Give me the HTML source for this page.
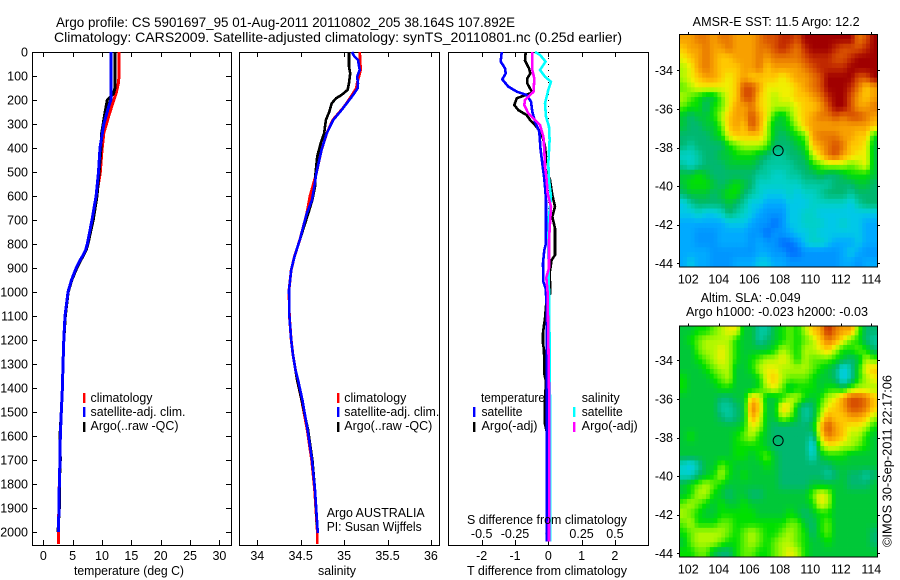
<!DOCTYPE html>
<html lang="en">
<head>
<meta charset="utf-8">
<title>Argo profile chart</title>
<style>
html,body{margin:0;padding:0;background:#fff;width:900px;height:580px;overflow:hidden}
svg{display:block}
text{font-family:"Liberation Sans",sans-serif;fill:#000}
</style>
</head>
<body>
<svg id="chart" width="900" height="580" viewBox="0 0 900 580" xmlns="http://www.w3.org/2000/svg">
  <rect width="900" height="580" fill="#fff"/>
  <text x="56" y="27" font-size="14" textLength="459" lengthAdjust="spacingAndGlyphs">Argo profile: CS 5901697_95 01-Aug-2011 20110802_205 38.164S 107.892E</text>
  <text x="54" y="42" font-size="14" textLength="568" lengthAdjust="spacingAndGlyphs">Climatology: CARS2009. Satellite-adjusted climatology: synTS_20110801.nc (0.25d earlier)</text>

  <g id="panels"></g>
  <g id="maps"></g>

  <text x="74" y="575" font-size="12.5" textLength="110" lengthAdjust="spacingAndGlyphs">temperature (deg C)</text>
  <text x="318" y="575" font-size="12.5" textLength="38" lengthAdjust="spacingAndGlyphs">salinity</text>
  <text x="467" y="575" font-size="12.5" textLength="160" lengthAdjust="spacingAndGlyphs">T difference from climatology</text>
  <text x="467" y="524" font-size="12.5" textLength="160" lengthAdjust="spacingAndGlyphs">S difference from climatology</text>

  <g>
    <rect x="83" y="393" width="2.4" height="10" fill="#f00"/>
    <rect x="83" y="407" width="2.4" height="10" fill="#00f"/>
    <rect x="83" y="422" width="2.4" height="10" fill="#000"/>
    <text x="90.5" y="402" font-size="12.5" textLength="62" lengthAdjust="spacingAndGlyphs">climatology</text>
    <text x="90.5" y="416" font-size="12.5" textLength="95" lengthAdjust="spacingAndGlyphs">satellite-adj. clim.</text>
    <text x="90.5" y="430" font-size="12.5" textLength="88" lengthAdjust="spacingAndGlyphs">Argo(..raw -QC)</text>
  </g>
  <g>
    <rect x="337" y="393" width="2.4" height="10" fill="#f00"/>
    <rect x="337" y="407" width="2.4" height="10" fill="#00f"/>
    <rect x="337" y="422" width="2.4" height="10" fill="#000"/>
    <text x="344.3" y="402" font-size="12.5" textLength="62" lengthAdjust="spacingAndGlyphs">climatology</text>
    <text x="344.3" y="416" font-size="12.5" textLength="95" lengthAdjust="spacingAndGlyphs">satellite-adj. clim.</text>
    <text x="344.3" y="430" font-size="12.5" textLength="88" lengthAdjust="spacingAndGlyphs">Argo(..raw -QC)</text>
    <text x="326.7" y="517" font-size="12.5" textLength="98" lengthAdjust="spacingAndGlyphs">Argo AUSTRALIA</text>
    <text x="326.7" y="531" font-size="12.5" textLength="95" lengthAdjust="spacingAndGlyphs">PI: Susan Wijffels</text>
  </g>
  <g>
    <text x="481" y="402" font-size="12.5" textLength="64" lengthAdjust="spacingAndGlyphs">temperature</text>
    <text x="581.7" y="402" font-size="12.5" textLength="38" lengthAdjust="spacingAndGlyphs">salinity</text>
    <rect x="473" y="407" width="2.4" height="10" fill="#00f"/>
    <rect x="473" y="422" width="2.4" height="10" fill="#000"/>
    <rect x="573" y="407" width="2.4" height="10" fill="#0ff"/>
    <rect x="573" y="422" width="2.4" height="10" fill="#f0f"/>
    <text x="481.5" y="416" font-size="12.5" textLength="41" lengthAdjust="spacingAndGlyphs">satellite</text>
    <text x="481.5" y="430" font-size="12.5" textLength="56" lengthAdjust="spacingAndGlyphs">Argo(-adj)</text>
    <text x="581.7" y="416" font-size="12.5" textLength="41" lengthAdjust="spacingAndGlyphs">satellite</text>
    <text x="581.7" y="430" font-size="12.5" textLength="56" lengthAdjust="spacingAndGlyphs">Argo(-adj)</text>
  </g>

  <text x="692.7" y="26" font-size="12.5" textLength="167" lengthAdjust="spacingAndGlyphs">AMSR-E SST: 11.5 Argo: 12.2</text>
  <text x="700.7" y="302" font-size="12.5" textLength="100" lengthAdjust="spacingAndGlyphs">Altim. SLA: -0.049</text>
  <text x="686" y="316" font-size="12.5" textLength="182" lengthAdjust="spacingAndGlyphs">Argo h1000: -0.023 h2000: -0.03</text>
  <text transform="translate(891.5 547) rotate(-90)" font-size="12.5" textLength="172" lengthAdjust="spacingAndGlyphs">©IMOS 30-Sep-2011 22:17:06</text>
</svg>

<script>
// ---------- chart data ----------
const depthTicks = [0,100,200,300,400,500,600,700,800,900,1000,1100,1200,1300,1400,1500,1600,1700,1800,1900,2000];
const temperatureTicks = [0,5,10,15,20,25,30];
const salinityTicks = [34,34.5,35,35.5,36];
const tDiffTicks = [-2,-1,0,1,2];
const sDiffTickLabels = ["-0.5","-0.25","0","0.25","0.5"];
const sDiffTicks = [-0.5,-0.25,0,0.25,0.5];
const lonTicks = [102,104,106,108,110,112,114];
const latTicks = [-34,-36,-38,-40,-42,-44];

const climTempDepth = [0,100,130,172,215,270,338,408,505,600,700,800,825,850,875,900,950,1000,1100,1200,1300,1400,1500,1600,1700,1800,1900,2000,2050];
const climTemp = [12.9,12.9,12.8,12.4,11.8,11.1,10.3,10.0,9.7,9.05,8.35,7.5,7.2,6.7,6.1,5.6,4.8,4.2,3.7,3.5,3.35,3.25,3.07,2.9,2.85,2.73,2.66,2.56,2.55];
const satTempDepth = [0,200,230,300,400,500,600,700,800,825,850,875,900,950,1000,1100,1200,1300,1400,1500,1600,1700,1800,1900,2000];
const satTemp = [11.5,11.5,11.1,10.3,9.66,9.4,9.0,8.3,7.5,7.2,6.7,6.1,5.6,4.8,4.2,3.7,3.5,3.35,3.25,3.07,2.9,2.85,2.73,2.68,2.56];
const argoTempDepth = [0,150,172,200,255,338,408,500,600,700,800,825,850,875,900,950,1000,1100,1200,1300,1400,1500,1600,1700,1800,1900,2000];
const argoTemp = [12.2,12.2,12.0,10.9,10.5,9.95,9.8,9.5,9.15,8.5,7.6,7.3,6.8,6.2,5.7,4.85,4.25,3.75,3.5,3.35,3.25,3.07,2.85,2.9,2.73,2.72,2.5];

const climSalDepth = [0,75,130,151,186,228,283,339,408,506,600,672,728,783,850,908,992,1100,1200,1260,1325,1367,1450,1575,1700,1825,1992,2050];
const climSal = [35.18,35.19,35.15,35.14,35.08,35.0,34.87,34.8,34.74,34.68,34.607,34.57,34.53,34.49,34.43,34.39,34.365,34.37,34.39,34.41,34.44,34.46,34.51,34.575,34.625,34.66,34.69,34.69];
const satSalDepth = [0,19,33,75,103,130,151,186,242,283,339,408,506,561,617,672,728,783,850,908,992,1100,1200,1260,1325,1367,1450,1575,1700,1825,2005];
const satSal = [35.09,35.12,35.16,35.18,35.15,35.16,35.157,35.09,34.97,34.876,34.8,34.74,34.68,34.657,34.63,34.57,34.53,34.49,34.43,34.39,34.365,34.37,34.39,34.41,34.44,34.47,34.52,34.58,34.63,34.665,34.697];
const argoSalDepth = [0,61,89,130,158,179,193,214,249,283,339,380,436,506,561,617,672,783,850,908,992,1100,1200,1260,1325,1367,1450,1575,1700,1825,1980];
const argoSal = [35.056,35.056,35.07,35.056,35.04,34.97,34.907,34.857,34.83,34.79,34.77,34.73,34.69,34.67,34.665,34.634,34.587,34.49,34.43,34.39,34.365,34.37,34.39,34.41,34.44,34.46,34.51,34.585,34.635,34.665,34.69];

const satTDiffDepth = [0,40,68,89,114,144,165,179,207,249,290,332,408,464,519,561,617,797,825,881,957,985,1050,2040];
const satTDiff = [-1.40,-1.43,-1.30,-1.28,-1.38,-1.20,-0.95,-0.65,-0.52,-0.48,-0.40,-0.27,-0.23,-0.18,-0.13,-0.10,-0.07,-0.07,-0.12,-0.16,-0.15,-0.08,-0.05,-0.04];
const argoTDiffDepth = [0,36,68,89,110,131,169,193,221,242,263,283,304,339,394,436,485,533,596,644,686,735,846,867,923,985,1006,1030,1110,1138,1172,1214,1242,1339,1374,1450,1550,1580,2040];
const argoTDiff = [-0.68,-0.70,-0.58,-0.54,-0.63,-0.63,-0.48,-0.95,-1.02,-0.90,-0.65,-0.55,-0.40,-0.20,-0.10,-0.07,-0.10,0.05,0.12,0.20,0.12,0.20,0.20,0.10,0.04,0.06,0.06,-0.05,-0.10,-0.13,-0.16,-0.16,-0.13,-0.12,-0.07,-0.10,-0.10,-0.05,-0.05];
const satSDiffDepth = [0,12,40,75,103,124,158,214,269,311,367,464,533,603,686,783,1000,1330,2040];
const satSDiff = [-0.10,-0.062,-0.02,-0.062,-0.025,0.02,0,-0.025,-0.017,0.005,0.01,0,0.005,0.02,0.005,0,0.005,0.012,0.015];
const argoSDiffDepth = [0,75,110,165,200,221,256,283,304,353,408,478,533,589,644,714,783,900,940,1000,1300,1500,2040];
const argoSDiff = [-0.12,-0.12,-0.105,-0.11,-0.175,-0.18,-0.15,-0.10,-0.062,-0.037,-0.03,-0.025,-0.012,-0.005,0.02,0.013,0.005,0.005,-0.015,-0.005,0.003,0.008,0.005];

// colour level (0 = coldest/lowest … 17 = warmest/highest), 0.5 deg cells north to south, west to east
const sstLevels = [
[13,13,14,14,13,14,14,13,13,13,14,15,15,16,16,15,17,17,17,17,17,17,17,14,15,17],
[12,13,13,14,13,13,14,13,13,13,14,14,15,16,15,14,16,17,17,17,16,15,15,15,16,17],
[11,12,13,14,13,12,12,13,13,13,14,13,14,14,14,14,15,16,16,16,15,15,16,17,17,17],
[10,11,13,14,13,12,12,12,13,13,14,12,13,13,13,13,14,15,16,16,16,16,17,17,17,17],
[10,11,12,13,13,12,11,12,13,12,12,12,12,11,12,13,13,14,15,17,17,17,17,15,15,17],
[9,10,11,11,11,11,11,12,15,15,13,11,11,11,11,12,13,14,15,17,17,17,16,14,12,13],
[10,9,8,7,7,9,11,12,15,15,12,11,10,11,11,12,12,13,14,16,17,17,15,13,12,13],
[9,8,8,6,8,9,11,13,13,14,12,11,10,10,10,11,12,12,13,15,17,17,15,13,13,14],
[7,6,7,7,8,10,12,13,13,15,13,11,8,7,9,11,12,13,14,14,15,14,15,15,14,13],
[7,6,6,7,7,9,12,13,12,15,13,10,7,7,8,10,12,13,13,13,13,13,13,13,13,12],
[6,6,6,6,7,8,11,12,12,12,12,10,7,6,7,8,9,13,14,14,14,13,13,12,12,8],
[6,5,6,6,6,6,8,9,10,10,10,9,6,6,6,7,8,12,13,14,15,14,12,12,11,7],
[4,4,5,6,6,7,7,8,8,8,7,6,5,5,6,6,7,10,12,14,15,13,12,11,11,7],
[5,4,5,6,6,6,7,7,7,7,6,5,5,5,5,6,6,8,9,10,10,10,9,10,11,7],
[7,7,8,7,6,6,6,6,6,6,5,5,4,4,5,5,6,6,7,6,6,7,8,8,8,7],
[7,8,8,8,7,6,7,8,7,6,4,4,4,4,4,4,5,5,5,5,6,6,6,7,7,6],
[6,7,7,7,6,7,8,8,6,5,4,3,3,3,4,3,4,4,5,6,6,6,5,6,6,6],
[3,5,6,6,6,6,7,6,5,3,3,2,2,2,3,3,3,4,4,4,4,4,3,5,6,6],
[3,3,4,3,3,4,6,5,4,3,2,1,1,1,3,3,4,4,3,3,3,3,3,3,3,3],
[2,2,2,2,2,2,3,3,3,2,1,1,0,1,3,3,4,4,4,3,3,4,3,3,2,2],
[2,2,1,1,1,2,2,2,2,1,1,0,1,1,2,3,3,4,3,3,3,3,3,3,2,2],
[2,2,1,1,1,2,2,2,2,1,2,1,1,0,0,1,3,4,4,3,2,2,2,3,2,2],
[2,2,2,2,1,1,1,1,1,1,2,2,1,1,0,0,1,1,1,1,1,2,3,2,1,1],
[2,3,2,2,1,1,1,2,2,2,3,3,2,2,1,1,1,1,1,1,1,2,2,1,2,2]
];
const slaLevels = [
[7,7,8,8,9,10,11,11,7,7,5,5,7,8,9,8,10,12,13,16,14,13,13,9,6,6],
[7,8,9,10,10,10,10,8,7,7,5,6,7,8,9,8,9,10,12,14,13,11,9,8,6,5],
[7,7,9,10,10,11,10,8,7,7,7,7,8,10,9,8,10,10,11,12,10,8,8,9,8,6],
[7,7,8,9,10,11,10,8,7,8,9,10,10,11,10,8,10,9,9,9,8,7,6,7,10,9],
[7,7,7,8,9,10,10,7,7,8,10,11,11,10,10,10,10,9,8,7,6,3,5,8,11,12],
[8,7,7,7,8,9,10,7,7,7,8,11,12,10,9,9,9,8,7,7,6,3,5,8,10,11],
[8,7,7,7,7,8,8,7,7,7,8,10,11,9,7,8,8,8,7,8,8,7,9,10,10,10],
[7,7,7,7,7,6,6,7,7,12,11,7,7,8,10,10,8,7,8,10,11,13,15,15,14,12],
[7,7,7,7,7,5,5,6,7,14,12,7,7,12,11,7,5,6,9,11,12,13,15,15,14,12],
[7,7,7,7,7,6,5,6,7,13,11,7,7,10,9,7,5,6,10,13,12,12,13,13,12,10],
[7,7,7,7,7,7,7,7,8,11,10,7,6,6,6,6,6,7,12,15,13,12,11,11,10,8],
[7,8,7,7,7,7,7,8,9,10,8,7,6,6,6,6,6,5,11,14,13,12,10,10,8,7],
[7,7,7,7,7,7,7,8,8,8,8,7,6,6,6,6,6,3,9,11,11,10,10,9,8,7],
[7,7,7,7,7,7,7,8,8,7,8,9,7,6,6,6,6,4,7,8,8,8,7,7,7,7],
[4,3,5,7,7,9,8,7,7,7,7,8,7,6,6,6,6,6,6,6,7,7,7,7,7,7],
[4,4,6,7,8,10,8,7,8,7,7,7,7,6,6,6,6,6,6,5,6,7,6,6,5,6],
[7,8,9,10,9,8,7,7,7,7,7,7,7,6,6,6,6,7,7,7,7,7,6,6,6,7],
[7,8,10,10,8,7,6,7,7,6,6,7,7,7,7,7,7,9,11,10,7,7,7,7,7,7],
[9,10,9,8,7,8,7,7,8,7,7,7,7,7,7,7,7,8,11,10,7,7,7,7,7,7],
[10,9,8,7,7,8,8,8,8,8,7,7,7,7,8,7,6,7,8,8,7,7,7,7,7,7],
[9,10,8,8,8,9,9,8,8,8,8,8,8,8,9,9,7,6,8,9,7,7,7,7,7,7],
[8,9,10,10,10,10,9,8,9,10,9,8,8,9,10,9,8,6,8,9,7,7,7,7,7,6],
[7,9,10,10,10,9,8,8,9,10,9,8,9,10,10,9,8,7,7,8,7,7,7,7,7,6],
[8,8,9,9,7,6,6,8,9,9,8,8,9,10,11,10,8,7,7,7,7,7,7,7,7,7]
];
const profileLon = 107.892;
const profileLat = -38.164;

// ---------- axis functions ----------
const SVGNS = 'http://www.w3.org/2000/svg';
const yDepth = d => 52 + d * 0.24;
const xTemp = t => 43.3 + t * 5.87;
const xSal = s => 257.3 + (s - 34) * 86.8;
const xTDiff = t => 548.3 + t * 33.3;
const xSDiff = s => 548.3 + s * 133.2;
const xLon = lon => 688.3 + (lon - 102) * 15.25;
const latAxis = y34 => lat => y34 + (-34 - lat) * 19.3;

// colormap stops, one per colour level
const paletteR = [0,0,0,0,0,0,0,0,0,96,176,240,255,248,232,216,192,160];
const paletteG = [112,150,170,200,208,200,184,200,224,240,248,240,200,160,120,80,40,0];
const paletteB = [255,255,255,232,200,160,112,56,0,0,0,0,0,0,0,0,0,0];
function levelColor(v) {
  const t = Math.max(0, Math.min(17, v));
  const a = Math.floor(t), b = Math.min(17, a + 1), f = t - a;
  const mix = arr => Math.round(arr[a] + (arr[b] - arr[a]) * f);
  return 'rgb(' + mix(paletteR) + ',' + mix(paletteG) + ',' + mix(paletteB) + ')';
}
// display smoothing: value at fractional grid position (cell centres at integer positions)
function sampleLevel(levels, r, c) {
  const rows = levels.length, cols = levels[0].length;
  const rr = Math.max(0, Math.min(rows - 1, r)), cc = Math.max(0, Math.min(cols - 1, c));
  const r0 = Math.floor(rr), c0 = Math.floor(cc);
  const r1 = Math.min(rows - 1, r0 + 1), c1 = Math.min(cols - 1, c0 + 1);
  const fr = rr - r0, fc = cc - c0;
  return (levels[r0][c0] * (1 - fr) + levels[r1][c0] * fr) * (1 - fc) +
         (levels[r0][c1] * (1 - fr) + levels[r1][c1] * fr) * fc;
}

function make(tag, parent, attrs, txt) {
  const el = document.createElementNS(SVGNS, tag);
  for (const k in attrs) el.setAttribute(k, attrs[k]);
  if (txt !== undefined) el.textContent = txt;
  parent.appendChild(el);
  return el;
}

const panels = document.getElementById('panels');
const maps = document.getElementById('maps');

function drawFrame(x0, x1, y0, y1, name) {
  const el = make('rect', panels, {x: x0 + .5, y: y0 + .5, width: x1 - x0, height: y1 - y0, fill: 'none', stroke: '#000', 'stroke-width': 1, 'shape-rendering': 'crispEdges'});
  
  
}

function tick(parent, x1, y1, x2, y2, name) {
  const el = make('line', parent, {x1, y1, x2, y2, stroke: '#000', 'stroke-width': 1, 'shape-rendering': 'crispEdges'});
  
  
}

function label(parent, x, y, anchor, txt, name) {
  const el = make('text', parent, {x, y, 'text-anchor': anchor, 'font-size': 12.5}, txt);
  
  
}

function series(depths, values, xf, color, width, name) {
  const pts = depths.map((d, i) => xf(values[i]).toFixed(1) + ',' + yDepth(d).toFixed(1)).join(' ');
  const el = make('polyline', panels, {points: pts, fill: 'none', stroke: color, 'stroke-width': width, 'stroke-linejoin': 'round', 'shape-rendering': 'crispEdges'});
  
  
}

// frames
const P_TOP = 52, P_BOT = 545;
drawFrame(32, 231, P_TOP, P_BOT, 'temperature-plot-frame');
drawFrame(239, 439, P_TOP, P_BOT, 'salinity-plot-frame');
drawFrame(448, 648, P_TOP, P_BOT, 'difference-plot-frame');

// depth ticks
depthTicks.forEach(d => {
  const y = Math.round(yDepth(d)) + .5;
  tick(panels, 32, y, 37, y, 'depth-tick-left');
  tick(panels, 226, y, 231, y, 'depth-tick-right');
  label(panels, 28, yDepth(d) + 4.5, 'end', String(d), 'depth-tick-label');
});
// temperature ticks
temperatureTicks.forEach(v => {
  const x = Math.round(xTemp(v)) + .5;
  tick(panels, x, P_TOP, x, P_TOP + 5, 'temperature-tick-top');
  tick(panels, x, P_BOT - 5, x, P_BOT, 'temperature-tick-bottom');
  label(panels, xTemp(v), 560, 'middle', String(v), 'temperature-tick-label');
});
// salinity ticks
salinityTicks.forEach(v => {
  const x = Math.round(xSal(v)) + .5;
  tick(panels, x, P_TOP, x, P_TOP + 5, 'salinity-tick-top');
  tick(panels, x, P_BOT - 5, x, P_BOT, 'salinity-tick-bottom');
  label(panels, xSal(v), 560, 'middle', String(v), 'salinity-tick-label');
});
// difference ticks
tDiffTicks.forEach(v => {
  const x = Math.round(xTDiff(v)) + .5;
  tick(panels, x, P_TOP, x, P_TOP + 5, 'difference-tick-top');
  tick(panels, x, P_BOT - 5, x, P_BOT, 'difference-tick-bottom');
  label(panels, xTDiff(v), 560, 'middle', String(v), 't-difference-tick-label');
});
sDiffTicks.forEach((v, i) => {
  label(panels, xSDiff(v), 538, 'middle', sDiffTickLabels[i], 's-difference-tick-label');
});
// zero reference
const zero = make('line', panels, {x1: xTDiff(0), y1: P_TOP, x2: xTDiff(0), y2: P_BOT, stroke: '#000', 'stroke-width': 1, 'stroke-dasharray': '1 5', 'shape-rendering': 'crispEdges'});



// series
series(climTempDepth, climTemp, xTemp, '#f00', 3, 'temperature-climatology-line');
series(argoTempDepth, argoTemp, xTemp, '#000', 3, 'temperature-argo-line');
series(satTempDepth, satTemp, xTemp, '#00f', 3, 'temperature-satellite-line');

series(climSalDepth, climSal, xSal, '#f00', 2.8, 'salinity-climatology-line');
series(argoSalDepth, argoSal, xSal, '#000', 2.6, 'salinity-argo-line');
series(satSalDepth, satSal, xSal, '#00f', 2.6, 'salinity-satellite-line');

series(argoTDiffDepth, argoTDiff, xTDiff, '#000', 2.6, 't-difference-argo-line');
series(satTDiffDepth, satTDiff, xTDiff, '#00f', 2.6, 't-difference-satellite-line');
series(satSDiffDepth, satSDiff, xSDiff, '#0ff', 2.6, 's-difference-satellite-line');
series(argoSDiffDepth, argoSDiff, xSDiff, '#f0f', 2.6, 's-difference-argo-line');

// maps
function drawMap(levels, y34, top, bottom, xLabelY, prefix) {
  const yLat = latAxis(y34);
  const latTop = -34 + (y34 - top) / 19.3;
  const lonLeft = 102 + (679.3 - 688.3) / 15.25;
  const rows = levels.length, cols = levels[0].length;
  const dLat = (bottom - top) / 19.3 / rows;
  const sub = 2;
  for (let r = 0; r < rows * sub; r++) {
    for (let c = 0; c < cols * sub; c++) {
      const v = sampleLevel(levels, (r + .5) / sub - .5, (c + .5) / sub - .5);
      const x0 = xLon(lonLeft + c * 0.5 / sub), x1 = xLon(lonLeft + (c + 1) * 0.5 / sub);
      const y0 = yLat(latTop - r * dLat / sub), y1 = yLat(latTop - (r + 1) * dLat / sub);
      const cell = make('rect', maps, {x: x0.toFixed(2), y: y0.toFixed(2), width: (x1 - x0 + .4).toFixed(2), height: (y1 - y0 + .4).toFixed(2), fill: levelColor(v)});
      
      
    }
  }
  const frame = make('rect', maps, {x: 679.5, y: top + .5, width: 198, height: bottom - top, fill: 'none', stroke: '#000', 'stroke-width': 1, 'shape-rendering': 'crispEdges'});
  
  
  lonTicks.forEach(v => {
    const x = Math.round(xLon(v)) + .5;
    tick(maps, x, top - 2, x, top, prefix + '-longitude-tick');
    label(maps, xLon(v), xLabelY, 'middle', String(v), prefix + '-longitude-label');
  });
  latTicks.forEach(v => {
    const y = Math.round(yLat(v)) + .5;
    tick(maps, 677, y, 679.5, y, prefix + '-latitude-tick-left');
    tick(maps, 878, y, 880, y, prefix + '-latitude-tick-right');
    label(maps, 673, yLat(v) + 4.5, 'end', String(v), prefix + '-latitude-label');
  });
  const marker = make('circle', maps, {cx: xLon(profileLon), cy: yLat(profileLat), r: 5, fill: 'none', stroke: '#000', 'stroke-width': 1});
  
  
}
drawMap(sstLevels, 70.3, 34, 266.7, 283.5, 'sst');
drawMap(slaLevels, 360.3, 325.7, 556.7, 573.5, 'sla');
</script>
</body>
</html>
